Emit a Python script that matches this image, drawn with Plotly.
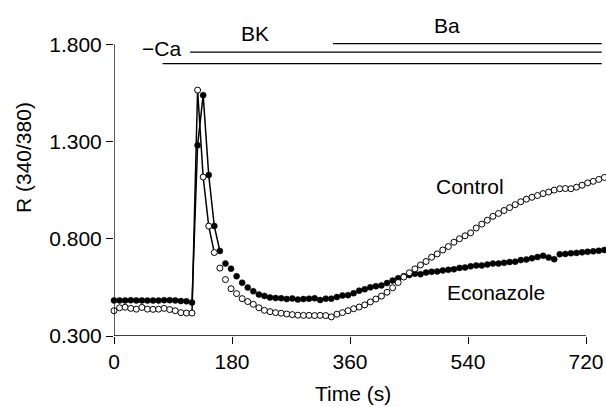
import plotly.graph_objects as go

# Time (s)
time_s = [0, 8.5, 17, 25.5, 34, 42.5, 51, 59.5, 68, 76.5, 85, 93.5, 102, 110.5, 119,
          127.5, 136, 144.5, 153, 161.5, 170, 178.5, 187, 195.5, 204, 212.5, 221, 229.5,
          238, 246.5, 255, 263.5, 272, 280.5, 289, 297.5, 306, 314.5, 323, 331.5, 340,
          348.5, 357, 365.5, 374, 382.5, 391, 399.5, 408, 416.5, 425, 433.5, 442, 450.5,
          459, 467.5, 476, 484.5, 493, 501.5, 510, 518.5, 527, 535.5, 544, 552.5, 561,
          569.5, 578, 586.5, 595, 603.5, 612, 620.5, 629, 637.5, 646, 654.5, 663, 671.5,
          680, 688.5, 697, 705.5, 714, 722.5, 731, 739.5, 748]

control = [0.430, 0.445, 0.448, 0.442, 0.438, 0.447, 0.438, 0.437, 0.438, 0.442, 0.436,
           0.430, 0.420, 0.418, 0.418, 1.564, 1.117, 0.865, 0.729, 0.649, 0.590, 0.543,
           0.518, 0.492, 0.477, 0.463, 0.445, 0.432, 0.425, 0.420, 0.417, 0.413, 0.410,
           0.407, 0.406, 0.406, 0.405, 0.406, 0.405, 0.398, 0.412, 0.420, 0.430, 0.440,
           0.449, 0.460, 0.475, 0.490, 0.505, 0.525, 0.548, 0.575, 0.603, 0.625, 0.645,
           0.665, 0.683, 0.705, 0.722, 0.742, 0.760, 0.782, 0.800, 0.815, 0.830, 0.855,
           0.875, 0.895, 0.915, 0.930, 0.945, 0.960, 0.975, 0.990, 1.003, 1.013, 1.022,
           1.032, 1.040, 1.050, 1.057, 1.058, 1.057, 1.065, 1.075, 1.087, 1.095, 1.105,
           1.115]

econazole = [0.483, 0.483, 0.483, 0.484, 0.483, 0.483, 0.482, 0.482, 0.482, 0.484, 0.484,
             0.483, 0.480, 0.478, 0.472, 1.280, 1.538, 1.127, 0.865, 0.737, 0.672, 0.646,
             0.607, 0.574, 0.549, 0.530, 0.513, 0.506, 0.498, 0.495, 0.494, 0.490, 0.493,
             0.487, 0.490, 0.492, 0.494, 0.485, 0.492, 0.492, 0.500, 0.508, 0.510, 0.520,
             0.533, 0.540, 0.550, 0.556, 0.560, 0.572, 0.585, 0.597, 0.607, 0.613, 0.620,
             0.618, 0.626, 0.630, 0.632, 0.637, 0.640, 0.643, 0.650, 0.652, 0.658, 0.662,
             0.663, 0.667, 0.672, 0.672, 0.676, 0.680, 0.682, 0.690, 0.693, 0.700, 0.706,
             0.712, 0.703, 0.695, 0.720, 0.722, 0.725, 0.727, 0.730, 0.733, 0.735, 0.738,
             0.742]

# index ranges of the connected (line) part around the transient
control_line = (14, 19)
econ_line = (14, 20)

x_ticks = [0, 180, 360, 540, 720]
y_ticks = [0.3, 0.8, 1.3, 1.8]

# Treatment bars: (label, start, end, y)
bars = [("Ba", 334, 744, 1.803), ("BK", 116, 744, 1.759), ("−Ca", 74, 744, 1.700)]

FONT = "Liberation Sans, Arial, sans-serif"
fig = go.Figure()

fig.add_trace(go.Scatter(x=time_s[control_line[0]:control_line[1]],
                         y=control[control_line[0]:control_line[1]],
                         mode="lines", line=dict(color="black", width=1.5),
                         hoverinfo="skip", cliponaxis=False))
fig.add_trace(go.Scatter(x=time_s[econ_line[0]:econ_line[1]],
                         y=econazole[econ_line[0]:econ_line[1]],
                         mode="lines", line=dict(color="black", width=1.5),
                         hoverinfo="skip", cliponaxis=False))
fig.add_trace(go.Scatter(x=time_s, y=econazole, mode="markers", name="Econazole",
                         marker=dict(symbol="circle", size=6, color="black",
                                     line=dict(color="black", width=0.5)),
                         cliponaxis=False))
fig.add_trace(go.Scatter(x=time_s, y=control, mode="markers", name="Control",
                         marker=dict(symbol="circle", size=6, color="white",
                                     line=dict(color="black", width=1)),
                         cliponaxis=False))

shapes = []
# axis lines
shapes.append(dict(type="line", xref="x", yref="y", x0=0, x1=0, y0=0.3, y1=1.8,
                   line=dict(color="black", width=1.3)))
shapes.append(dict(type="line", xref="x", yref="y", x0=0, x1=720, y0=0.3, y1=0.3,
                   line=dict(color="black", width=1.3)))
for lab, s, e, yv in bars:
    shapes.append(dict(type="line", xref="x", yref="y", x0=s, x1=e, y0=yv, y1=yv,
                       line=dict(color="black", width=1.3)))

ann = []
tf = dict(family=FONT, size=21, color="black")
ann.append(dict(x=508, y=1.897, xref="x", yref="y", text="Ba", showarrow=False, font=tf))
ann.append(dict(x=215, y=1.855, xref="x", yref="y", text="BK", showarrow=False, font=tf))
ann.append(dict(x=106, y=1.778, xref="x", yref="y", text="−Ca", showarrow=False,
                xanchor="right", font=tf))
ann.append(dict(x=543, y=1.069, xref="x", yref="y", text="Control", showarrow=False, font=tf))
ann.append(dict(x=582, y=0.525, xref="x", yref="y", text="Econazole", showarrow=False, font=tf))
ann.append(dict(x=(353 - 114) / 492, y=(336 - 393) / 336, xref="paper", yref="paper",
                xanchor="center", yanchor="middle",
                text="Time (s)", showarrow=False, font=tf))
ann.append(dict(x=(23 - 114) / 492, y=(336 - 158) / 336, xref="paper", yref="paper",
                xanchor="center", yanchor="middle",
                text="R (340/380)", showarrow=False, textangle=-90, font=tf))

fig.update_layout(
    width=606, height=407,
    margin=dict(l=114, r=0, t=0, b=71),
    paper_bgcolor="white", plot_bgcolor="white",
    showlegend=False,
    shapes=shapes, annotations=ann,
    xaxis=dict(range=[0, 750.5], tickvals=x_ticks, ticktext=[str(v) for v in x_ticks],
               ticks="outside", ticklen=7, tickwidth=1.3, tickcolor="black",
               showline=False, showgrid=False, zeroline=False,
               tickfont=dict(family=FONT, size=21, color="black")),
    yaxis=dict(range=[0.3, 2.027], tickvals=y_ticks,
               ticktext=["%.3f" % v for v in y_ticks],
               ticks="outside", ticklen=7, tickwidth=1.3, tickcolor="black",
               showline=False, showgrid=False, zeroline=False,
               tickfont=dict(family=FONT, size=21, color="black")),
)

fig.write_html("out.html")
